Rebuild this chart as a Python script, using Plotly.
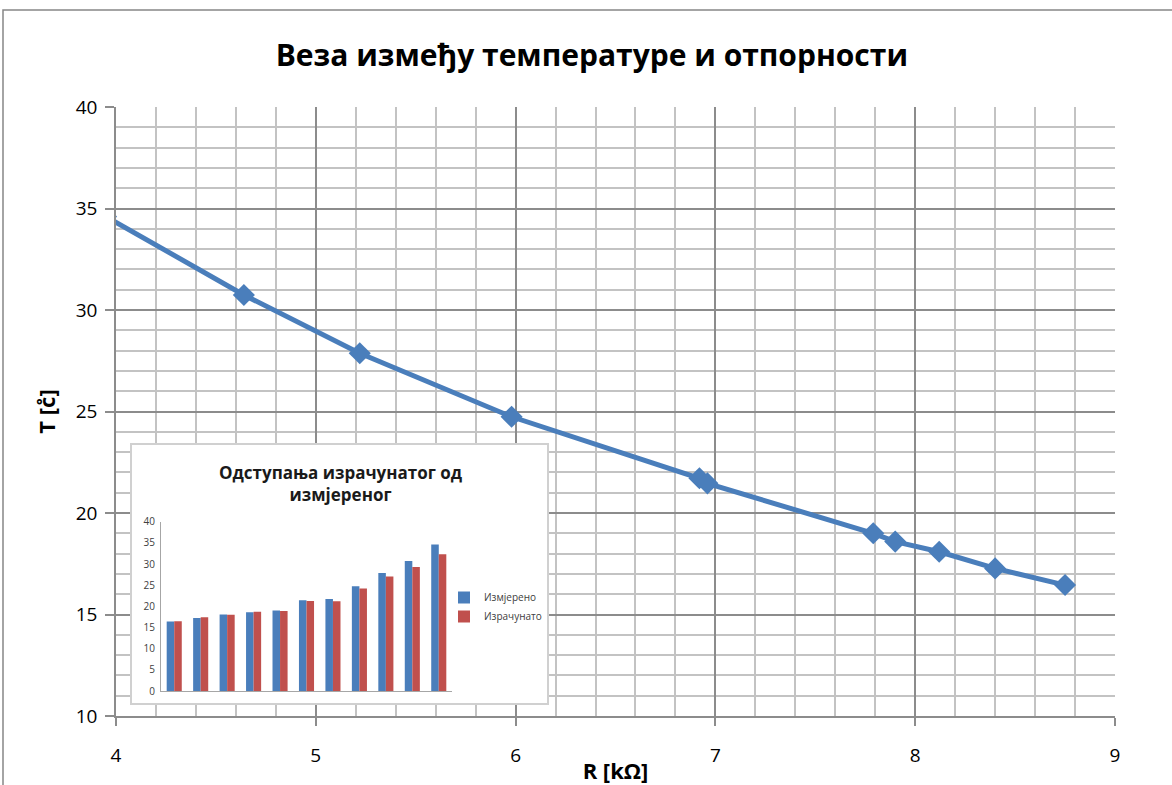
import plotly.graph_objects as go

# Measured resistance (kΩ) and temperature (°C) of the sensor
R_kohm = [3.95, 4.64, 5.22, 5.98, 6.92, 6.96, 7.79, 7.90, 8.12, 8.40, 8.75]
T_measured = [34.6, 30.74, 27.87, 24.74, 21.71, 21.46, 19.0, 18.59, 18.09, 17.27, 16.45]
# Temperature computed from the resistance, same order as above
T_calculated = [32.3, 29.3, 27.06, 24.2, 21.2, 21.25, 18.9, 18.7, 18.0, 17.4, 16.5]

# Inset bar chart: sorted from the coldest to the warmest reading
bar_categories = list(range(1, len(T_measured) + 1))
bar_measured = T_measured[::-1]
bar_calculated = T_calculated[::-1]

x_ticks = [4, 5, 6, 7, 8, 9]
y_ticks = [10, 15, 20, 25, 30, 35, 40]
inset_y_ticks = [0, 5, 10, 15, 20, 25, 30, 35, 40]

BLUE = "#4a7ebb"
RED = "#c0504d"
MAJOR = "#8c8c8c"
MINOR = "#c3c3c3"
FONT = "Open Sans"

# Plot area geometry in pixels (used to express paper coordinates)
W, H = 1172, 785
ML, MR, MT, MB = 116, 57, 107, 69
PW, PH = W - ML - MR, H - MT - MB


def px_x(p):
    return (p - ML) / PW


def px_y(p):
    return (H - MB - p) / PH


fig = go.Figure()

fig.add_trace(go.Scatter(
    x=R_kohm, y=T_measured, mode="lines+markers",
    line=dict(color=BLUE, width=5),
    marker=dict(symbol="diamond", size=17, color=BLUE),
    showlegend=False, xaxis="x", yaxis="y",
))

# empty trace so the white inset frame gets its own subplot
fig.add_trace(go.Scatter(x=[], y=[], xaxis="x2", yaxis="y2", showlegend=False))

fig.add_trace(go.Bar(
    x=bar_categories, y=bar_measured, name="Измјерено",
    marker=dict(color=BLUE, line=dict(width=0)), xaxis="x3", yaxis="y3",
))
fig.add_trace(go.Bar(
    x=bar_categories, y=bar_calculated, name="Израчунато",
    marker=dict(color=RED, line=dict(width=0)), xaxis="x3", yaxis="y3",
))

fig.update_layout(
    width=W, height=H,
    margin=dict(l=ML, r=MR, t=MT, b=MB, autoexpand=False),
    paper_bgcolor="white", plot_bgcolor="white",
    font=dict(family=FONT, color="black"),
    title=dict(
        text="<b>Веза између температуре и отпорности</b>",
        x=0.505, xanchor="center", y=1 - 55 / H, yanchor="middle",
        yref="container", font=dict(size=30, family=FONT, color="black"),
    ),
    xaxis=dict(
        range=[4, 9], tickvals=x_ticks, ticktext=[str(v) for v in x_ticks],
        showgrid=True, gridcolor=MAJOR, gridwidth=1.5,
        minor=dict(dtick=0.2, tick0=4, showgrid=True, gridcolor=MINOR, gridwidth=1.5, ticks=""),
        showline=True, linecolor=MAJOR, linewidth=1.5,
        ticks="outside", ticklen=8, tickcolor=MAJOR, tickwidth=1.5,
        zeroline=False, tickfont=dict(size=19, color="black"),
        ticklabelstandoff=13, automargin=False,
        title=dict(text="<b>R [kΩ]</b>", font=dict(size=22, color="black"), standoff=0),
        domain=[0, 1],
    ),
    yaxis=dict(
        range=[10, 40], tickvals=y_ticks, ticktext=[str(v) for v in y_ticks],
        showgrid=True, gridcolor=MAJOR, gridwidth=1.5,
        minor=dict(dtick=1, tick0=10, showgrid=True, gridcolor=MINOR, gridwidth=1.5, ticks=""),
        showline=True, linecolor=MAJOR, linewidth=1.5,
        ticks="outside", ticklen=9, tickcolor=MAJOR, tickwidth=1.5,
        zeroline=False, tickfont=dict(size=19, color="black"),
        ticklabelstandoff=4, automargin=False,
        title=dict(text="<b>T [c̊]</b>", font=dict(size=22, color="black"), standoff=14),
        domain=[0, 1],
    ),
    # white frame of the inset chart
    xaxis2=dict(
        domain=[px_x(132), px_x(547)], anchor="y2", range=[0, 1],
        showgrid=False, zeroline=False, showticklabels=False, ticks="",
        showline=True, mirror=True, linecolor="#d0d0d0", linewidth=1.5,
    ),
    yaxis2=dict(
        domain=[px_y(703), px_y(445)], anchor="x2", range=[0, 1],
        showgrid=False, zeroline=False, showticklabels=False, ticks="",
        showline=True, mirror=True, linecolor="#d0d0d0", linewidth=1.5,
    ),
    # inset bar chart axes
    xaxis3=dict(
        domain=[px_x(161), px_x(452)], anchor="y3", range=[0.5, 11.5],
        showgrid=False, zeroline=False, showticklabels=False, ticks="",
        showline=True, linecolor="#a6a6a6", linewidth=1,
    ),
    yaxis3=dict(
        domain=[px_y(691), px_y(521.7)], anchor="x3", range=[0, 40],
        tickvals=inset_y_ticks, ticktext=[str(v) for v in inset_y_ticks],
        showgrid=False, zeroline=False, ticks="",
        showline=True, linecolor="#a6a6a6", linewidth=1,
        tickfont=dict(size=10, color="#404040"), ticklabelstandoff=3,
    ),
    barmode="group", bargap=0.43, bargroupgap=0,
    legend=dict(
        x=px_x(444), y=px_y(583), xanchor="left", yanchor="top",
        bgcolor="rgba(0,0,0,0)", font=dict(size=10, color="#404040"),
        itemwidth=30, tracegroupgap=4,
    ),
    annotations=[dict(
        text="<b>Одступања израчунатог од<br>измјереног</b>",
        x=px_x(341), y=px_y(483), xref="paper", yref="paper",
        showarrow=False, font=dict(size=17, color="#1a1a1a", family=FONT),
        align="center", xanchor="center", yanchor="middle",
    )],
    shapes=[dict(
        type="rect", xref="paper", yref="paper",
        x0=px_x(3), x1=px_x(1190), y0=px_y(800), y1=px_y(10),
        line=dict(color="#868686", width=1.5), fillcolor="rgba(0,0,0,0)",
        layer="below",
    )],
)

fig.write_html("out.html")
